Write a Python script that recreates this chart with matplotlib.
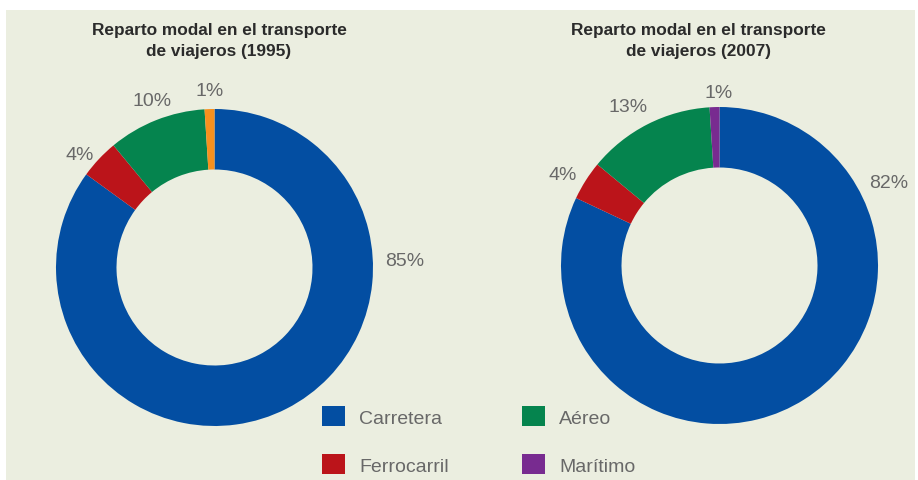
"""Reparto modal en el transporte de viajeros: 1995 vs 2007 (two donuts)."""

import matplotlib
matplotlib.use("Agg")
import matplotlib.pyplot as plt
from matplotlib.patches import Patch, Rectangle

# --- data --------------------------------------------------------------------
MODES = ["Carretera", "Ferrocarril", "Aéreo", "Marítimo"]
SHARE_1995 = [85, 4, 10, 1]
SHARE_2007 = [82, 4, 13, 1]
LABELS_1995 = ["85%", "4%", "10%", "1%"]
LABELS_2007 = ["82%", "4%", "13%", "1%"]

# --- style -------------------------------------------------------------------
BLUE, RED, GREEN = "#034ea2", "#bb141a", "#05844e"
ORANGE, PURPLE = "#f7901e", "#782b90"
COLORS_1995 = [BLUE, RED, GREEN, ORANGE]   # 1995 draws Marítimo in orange
COLORS_2007 = [BLUE, RED, GREEN, PURPLE]
BG = "#ebeee0"
TITLE_C = "#2b2b2b"
LABEL_C = "#686868"

plt.rcParams["font.family"] = ["Liberation Sans", "DejaVu Sans"]

W, H = 918, 481
R_OUT, R_IN = 158.5, 98.0


def Y(y_px):
    """pixel row (top-down) -> data y (bottom-up)."""
    return H - y_px


def main() -> None:
    fig = plt.figure(figsize=(W / 100, H / 100), dpi=100, facecolor="white")
    ax = fig.add_axes([0, 0, 1, 1])
    ax.set_xlim(0, W)
    ax.set_ylim(0, H)
    ax.set_aspect("equal")
    ax.axis("off")

    ax.add_patch(Rectangle((6, 0), 909, Y(11), facecolor=BG, edgecolor="none",
                           zorder=0))

    panels = (
        (SHARE_1995, COLORS_1995, LABELS_1995, (214.5, 268.5), 219,
         "Reparto modal en el transporte\nde viajeros (1995)",
         [(405, 262), (80, 156), (152, 101), (210, 92)]),
        (SHARE_2007, COLORS_2007, LABELS_2007, (719.5, 266.5), 698,
         "Reparto modal en el transporte\nde viajeros (2007)",
         [(889, 183), (563, 175), (628, 108), (719, 93)]),
    )
    for vals, cols, labs, (cx, cy), tx, title, lab_pos in panels:
        ax.pie(vals, colors=cols, center=(cx, Y(cy)), radius=R_OUT,
               startangle=90, counterclock=False, frame=True,
               wedgeprops=dict(width=R_OUT - R_IN, linewidth=0))
        ax.text(tx, Y(41), title, ha="center", va="center", fontsize=12.4,
                fontweight="bold", color=TITLE_C, linespacing=1.48)
        for lab, (lx, ly) in zip(labs, lab_pos):
            ax.text(lx, Y(ly), lab, ha="center", va="center", fontsize=14,
                    color=LABEL_C)

    ax.set_xlim(0, W)
    ax.set_ylim(0, H)
    ax.axis("off")

    handles = [Patch(facecolor=c, edgecolor="none") for c in COLORS_2007]
    ax.legend(handles, MODES, ncol=2, loc="upper left",
              bbox_to_anchor=(322, Y(407)), bbox_transform=ax.transData,
              frameon=False, fontsize=14, labelcolor=LABEL_C,
              handlelength=1.2, handleheight=1.2, handletextpad=0.72,
              labelspacing=1.42, columnspacing=3.75, borderpad=0,
              borderaxespad=0)

    fig.savefig("out.png", dpi=100, facecolor="white")


if __name__ == "__main__":
    main()
